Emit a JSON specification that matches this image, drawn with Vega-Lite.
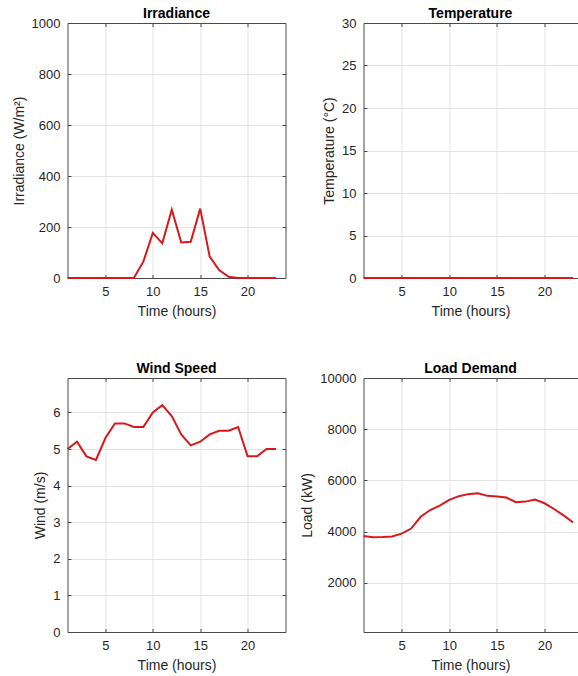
{
  "$schema": "https://vega.github.io/schema/vega-lite/v6.json",
  "background": "white",
  "padding": {"left": 11.5, "top": 7, "right": 0, "bottom": 0},
  "datasets": {
    "irradiance": [
      {"t": 1, "v": 0}, {"t": 2, "v": 0}, {"t": 3, "v": 0}, {"t": 4, "v": 0},
      {"t": 5, "v": 0}, {"t": 6, "v": 0}, {"t": 7, "v": 0}, {"t": 8, "v": 0},
      {"t": 9, "v": 64}, {"t": 10, "v": 177}, {"t": 11, "v": 136}, {"t": 12, "v": 268},
      {"t": 13, "v": 139}, {"t": 14, "v": 142}, {"t": 15, "v": 272}, {"t": 16, "v": 84},
      {"t": 17, "v": 31}, {"t": 18, "v": 5}, {"t": 19, "v": 0}, {"t": 20, "v": 0},
      {"t": 21, "v": 0}, {"t": 22, "v": 0}, {"t": 23, "v": 0}
    ],
    "temperature": [
      {"t": 1, "v": 0}, {"t": 2, "v": 0}, {"t": 3, "v": 0}, {"t": 4, "v": 0},
      {"t": 5, "v": 0}, {"t": 6, "v": 0}, {"t": 7, "v": 0}, {"t": 8, "v": 0},
      {"t": 9, "v": 0}, {"t": 10, "v": 0}, {"t": 11, "v": 0}, {"t": 12, "v": 0},
      {"t": 13, "v": 0}, {"t": 14, "v": 0}, {"t": 15, "v": 0}, {"t": 16, "v": 0},
      {"t": 17, "v": 0}, {"t": 18, "v": 0}, {"t": 19, "v": 0}, {"t": 20, "v": 0},
      {"t": 21, "v": 0}, {"t": 22, "v": 0}, {"t": 23, "v": 0}
    ],
    "wind": [
      {"t": 1, "v": 5.0}, {"t": 2, "v": 5.2}, {"t": 3, "v": 4.8}, {"t": 4, "v": 4.7},
      {"t": 5, "v": 5.3}, {"t": 6, "v": 5.7}, {"t": 7, "v": 5.7}, {"t": 8, "v": 5.6},
      {"t": 9, "v": 5.6}, {"t": 10, "v": 6.0}, {"t": 11, "v": 6.2}, {"t": 12, "v": 5.9},
      {"t": 13, "v": 5.4}, {"t": 14, "v": 5.1}, {"t": 15, "v": 5.2}, {"t": 16, "v": 5.4},
      {"t": 17, "v": 5.5}, {"t": 18, "v": 5.5}, {"t": 19, "v": 5.6}, {"t": 20, "v": 4.8},
      {"t": 21, "v": 4.8}, {"t": 22, "v": 5.0}, {"t": 23, "v": 5.0}
    ],
    "load": [
      {"t": 1, "v": 3826}, {"t": 2, "v": 3778}, {"t": 3, "v": 3786}, {"t": 4, "v": 3810},
      {"t": 5, "v": 3920}, {"t": 6, "v": 4118}, {"t": 7, "v": 4577}, {"t": 8, "v": 4842},
      {"t": 9, "v": 5012}, {"t": 10, "v": 5237}, {"t": 11, "v": 5383}, {"t": 12, "v": 5462},
      {"t": 13, "v": 5500}, {"t": 14, "v": 5395}, {"t": 15, "v": 5370}, {"t": 16, "v": 5328},
      {"t": 17, "v": 5145}, {"t": 18, "v": 5170}, {"t": 19, "v": 5250}, {"t": 20, "v": 5105},
      {"t": 21, "v": 4881}, {"t": 22, "v": 4630}, {"t": 23, "v": 4356}
    ]
  },
  "columns": 2,
  "spacing": {"row": 100, "column": 78},
  "bounds": "flush",
  "concat": [
    {
      "title": {"text": "Irradiance", "offset": -4},
      "width": 218,
      "height": 255,
      "data": {"name": "irradiance"},
      "resolve": {"axis": {"x": "independent", "y": "independent"}},
      "layer": [
        {
          "mark": {"type": "line", "color": "#d7191c", "strokeWidth": 2},
          "encoding": {
            "x": {"field": "t", "type": "quantitative", "title": "Time (hours)",
                  "scale": {"domain": [1, 24], "nice": false, "zero": false},
                  "axis": {"values": [5, 10, 15, 20]}},
            "y": {"field": "v", "type": "quantitative", "title": "Irradiance (W/m²)",
                  "scale": {"domain": [0, 1000], "nice": false},
                  "axis": {"values": [0, 200, 400, 600, 800, 1000]}}
          }
        },
        {
          "mark": {"type": "line", "strokeOpacity": 0},
          "encoding": {
            "x": {"field": "t", "type": "quantitative",
                  "axis": {"orient": "top", "values": [5, 10, 15, 20], "labels": false, "title": null, "grid": false}},
            "y": {"field": "v", "type": "quantitative",
                  "axis": {"orient": "right", "values": [0, 200, 400, 600, 800, 1000], "labels": false, "title": null, "grid": false}}
          }
        }
      ]
    },
    {
      "title": {"text": "Temperature", "offset": -4},
      "width": 214,
      "height": 255,
      "data": {"name": "temperature"},
      "resolve": {"axis": {"x": "independent"}},
      "layer": [
        {
          "mark": {"type": "line", "color": "#d7191c", "strokeWidth": 2},
          "encoding": {
            "x": {"field": "t", "type": "quantitative", "title": "Time (hours)",
                  "scale": {"domain": [1, 23.46], "nice": false, "zero": false},
                  "axis": {"values": [5, 10, 15, 20]}},
            "y": {"field": "v", "type": "quantitative", "title": "Temperature (°C)",
                  "scale": {"domain": [0, 30], "nice": false},
                  "axis": {"values": [0, 5, 10, 15, 20, 25, 30]}}
          }
        },
        {
          "mark": {"type": "line", "strokeOpacity": 0},
          "encoding": {
            "x": {"field": "t", "type": "quantitative",
                  "axis": {"orient": "top", "values": [5, 10, 15, 20], "labels": false, "title": null, "grid": false}},
            "y": {"field": "v", "type": "quantitative"}
          }
        }
      ]
    },
    {
      "title": {"text": "Wind Speed", "offset": 2},
      "width": 218,
      "height": 254,
      "data": {"name": "wind"},
      "resolve": {"axis": {"x": "independent", "y": "independent"}},
      "layer": [
        {
          "mark": {"type": "line", "color": "#d7191c", "strokeWidth": 2},
          "encoding": {
            "x": {"field": "t", "type": "quantitative", "title": "Time (hours)",
                  "scale": {"domain": [1, 24], "nice": false, "zero": false},
                  "axis": {"values": [5, 10, 15, 20]}},
            "y": {"field": "v", "type": "quantitative", "title": "Wind (m/s)",
                  "scale": {"domain": [0, 6.94], "nice": false},
                  "axis": {"values": [0, 1, 2, 3, 4, 5, 6]}}
          }
        },
        {
          "mark": {"type": "line", "strokeOpacity": 0},
          "encoding": {
            "x": {"field": "t", "type": "quantitative",
                  "axis": {"orient": "top", "values": [5, 10, 15, 20], "labels": false, "title": null, "grid": false}},
            "y": {"field": "v", "type": "quantitative",
                  "axis": {"orient": "right", "values": [0, 1, 2, 3, 4, 5, 6], "labels": false, "title": null, "grid": false}}
          }
        }
      ]
    },
    {
      "title": {"text": "Load Demand", "offset": -4},
      "width": 214,
      "height": 254,
      "data": {"name": "load"},
      "resolve": {"axis": {"x": "independent"}},
      "layer": [
        {
          "mark": {"type": "line", "color": "#d7191c", "strokeWidth": 2},
          "encoding": {
            "x": {"field": "t", "type": "quantitative", "title": "Time (hours)",
                  "scale": {"domain": [1, 23.46], "nice": false, "zero": false},
                  "axis": {"values": [5, 10, 15, 20]}},
            "y": {"field": "v", "type": "quantitative", "title": "Load (kW)",
                  "scale": {"domain": [75, 10000], "nice": false, "zero": false},
                  "axis": {"values": [2000, 4000, 6000, 8000, 10000]}}
          }
        },
        {
          "mark": {"type": "line", "strokeOpacity": 0},
          "encoding": {
            "x": {"field": "t", "type": "quantitative",
                  "axis": {"orient": "top", "values": [5, 10, 15, 20], "labels": false, "title": null, "grid": false}},
            "y": {"field": "v", "type": "quantitative"}
          }
        }
      ]
    }
  ],
  "config": {
    "font": "Liberation Sans",
    "view": {"stroke": null},
    "title": {"font": "Liberation Sans", "fontSize": 14, "fontWeight": "bold", "color": "#000000", "anchor": "middle"},
    "axis": {
      "labelFont": "Liberation Sans",
      "labelFontSize": 13,
      "labelColor": "#262626",
      "titleFont": "Liberation Sans",
      "titleFontSize": 14,
      "titleFontWeight": "normal",
      "titleColor": "#262626",
      "gridColor": "#e3e3e3",
      "gridWidth": 1,
      "domain": true,
      "domainColor": "#4a4a4a",
      "domainWidth": 1,
      "tickColor": "#4a4a4a",
      "tickSize": -3.5,
      "labelPadding": 11,
      "format": "d",
      "zindex": 0
    },
    "axisX": {"titlePadding": 6},
    "axisY": {"titlePadding": 5}
  }
}
